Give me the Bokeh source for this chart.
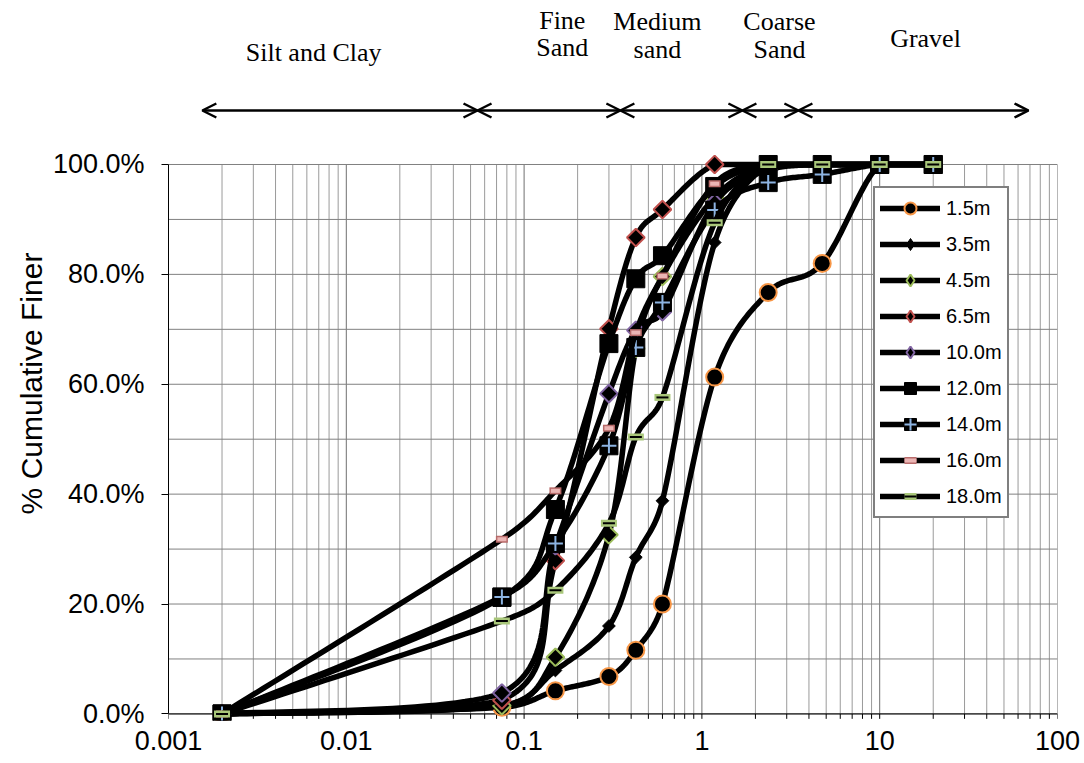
import numpy as np
from bokeh.plotting import figure
from bokeh.models import (Range1d, FixedTicker, PrintfTickFormatter, CustomJSTickFormatter,
                          Arrow, OpenHead)
from bokeh.layouts import column, row
from bokeh.core.properties import value
from bokeh.embed import file_html
from bokeh.resources import INLINE

# ---------------- data ----------------
sieve_mm = [0.002, 0.075, 0.15, 0.3, 0.425, 0.6, 1.18, 2.36, 4.75, 10, 20]
depths = ["1.5m", "3.5m", "4.5m", "6.5m", "10.0m", "12.0m", "14.0m", "16.0m", "18.0m"]
finer_1_5 = [0, 1.2, 4.2, 6.8, 11.6, 20.0, 61.3, 76.7, 82.0, 100, 100]
finer_3_5 = [0, 1.5, 7.9, 16.0, 28.5, 38.8, 85.8, 100, 100, 100, 100]
finer_4_5 = [0, 1.5, 10.3, 32.6, 66.5, 79.6, 94.0, 100, 100, 100, 100]
finer_6_5 = [0, 2.5, 27.9, 70.1, 86.7, 91.8, 100, 100, 100, 100, 100]
finer_10_0 = [0, 3.8, 30.6, 58.3, 69.8, 73.2, 93.0, 99.0, 100, 100, 100]
finer_12_0 = [0, 21.2, 37.2, 67.4, 79.2, 83.4, 96.0, 100, 100, 100, 100]
finer_14_0 = [0, 21.3, 31.0, 48.8, 66.7, 74.9, 91.7, 96.7, 98.2, 100, 100]
finer_16_0 = [0, 31.8, 40.6, 52.0, 69.4, 79.7, 96.5, 100, 100, 100, 100]
finer_18_0 = [0, 16.9, 22.5, 34.7, 50.4, 57.6, 89.4, 100, 100, 100, 100]

x_ticks = [0.001, 0.01, 0.1, 1, 10, 100]
y_ticks = [0, 20, 40, 60, 80, 100]
y_grid = [0, 10, 20, 30, 40, 50, 60, 70, 80, 90, 100]
y_title = "% Cumulative Finer"

zone_edges = [0.00155, 0.0547, 0.348, 1.69, 3.49, 68.7]
zone_text = ["Silt and Clay", "Fine", "Sand", "Medium", "sand", "Coarse", "Sand", "Gravel"]
zone_text_x = [0.00655, 0.164, 0.164, 0.562, 0.562, 2.73, 2.73, 18.1]
zone_text_y = [51.5, 20, 47, 21, 49, 21, 49, 38]

# ---------------- layout constants ----------------
W_LEFT = 48
W = 1036
BL, BR = 120, 27
H_TOP = 138
H_MAIN = 625
BT, BB = 15, 43
Y0, Y1 = -1.2, 102
FW = W - BL - BR
FH = H_MAIN - BT - BB
SX = FW / 5.0
SY = FH / (Y1 - Y0)


def excel_smooth(xs, ys, n=30):
    P = np.column_stack([np.log10(np.asarray(xs, float)) * SX, np.asarray(ys, float) * SY])
    m = len(P)
    out = [P[0]]
    t = np.linspace(0, 1, n + 1)[1:, None]
    for i in range(m - 1):
        p0 = P[i - 1] if i > 0 else P[i]
        p1, p2 = P[i], P[i + 1]
        p3 = P[i + 2] if i + 2 < m else P[i + 1]
        d12 = np.linalg.norm(p2 - p1)
        d02 = np.linalg.norm(p2 - p0)
        d13 = np.linalg.norm(p3 - p1)
        f1 = f2 = 1 / 6
        if d02 > 0 and d02 / 6 > d12 / 2:
            f1 = d12 / (2 * d02)
        if d13 > 0 and d13 / 6 > d12 / 2:
            f2 = d12 / (2 * d13)
        c1 = p1 + (p2 - p0) * f1
        c2 = p2 - (p3 - p1) * f2
        lo, hi = min(p1[1], p2[1]), max(p1[1], p2[1])
        c1[1] = min(max(c1[1], lo), hi)
        c2[1] = min(max(c2[1], lo), hi)
        seg = (1 - t) ** 3 * p1 + 3 * (1 - t) ** 2 * t * c1 + 3 * (1 - t) * t ** 2 * c2 + t ** 3 * p2
        out.extend(seg)
    out = np.array(out)
    return 10 ** (out[:, 0] / SX), out[:, 1] / SY


# ---------------- main chart ----------------
p = figure(width=W, height=H_MAIN, x_axis_type="log",
           x_range=Range1d(x_ticks[0], x_ticks[-1]), y_range=Range1d(Y0, Y1),
           output_backend="svg", toolbar_location=None,
           min_border_left=BL, min_border_right=BR, min_border_top=BT, min_border_bottom=BB)
p.xgrid.visible = False
p.ygrid.visible = False
p.outline_line_color = None
p.background_fill_color = "white"
p.border_fill_color = "white"

minor_x = [k * 10.0 ** d for d in range(-3, 2) for k in range(2, 10)]
all_x = minor_x + x_ticks
p.segment(x0=minor_x, y0=[y_grid[0]] * len(minor_x), x1=minor_x, y1=[y_grid[-1]] * len(minor_x),
          line_color="#9a9a9a", line_width=1)
p.segment(x0=x_ticks, y0=[y_grid[0]] * len(x_ticks), x1=x_ticks, y1=[y_grid[-1]] * len(x_ticks),
          line_color="#707070", line_width=1)
p.segment(x0=[x_ticks[0]] * len(y_grid), y0=y_grid, x1=[x_ticks[-1]] * len(y_grid), y1=y_grid,
          line_color="#808080", line_width=1)
# x baseline with downward tick marks at 0 %
p.segment(x0=[x_ticks[0]], y0=[y_grid[0]], x1=[x_ticks[-1]], y1=[y_grid[0]],
          line_color="black", line_width=1)
p.segment(x0=all_x, y0=[y_grid[0]] * len(all_x), x1=all_x, y1=[y_grid[0] - 0.9] * len(all_x),
          line_color="black", line_width=1)

# axes
p.xaxis.ticker = FixedTicker(ticks=x_ticks, minor_ticks=[])
p.xaxis.formatter = CustomJSTickFormatter(code="return tick.toString();")
p.xaxis.axis_line_color = None
p.xaxis.major_tick_line_color = None
p.xaxis.minor_tick_line_color = None
p.xaxis.major_tick_in = 0
p.xaxis.major_tick_out = 0
p.xaxis.major_label_standoff = 10
p.xaxis.major_label_text_font_size = "27px"

p.yaxis.bounds = (y_ticks[0], y_ticks[-1])
p.yaxis.ticker = FixedTicker(ticks=y_ticks, minor_ticks=[])
p.yaxis.formatter = PrintfTickFormatter(format="%.1f%%")
p.yaxis.axis_line_color = "black"
p.yaxis.major_tick_line_color = "black"
p.yaxis.major_tick_in = 0
p.yaxis.major_tick_out = 7
p.yaxis.minor_tick_line_color = None
p.yaxis.major_label_standoff = 17
p.yaxis.major_label_text_font_size = "27px"

for ax in (p.xaxis, p.yaxis):
    ax.major_label_text_font = "Liberation Sans"
    ax.major_label_text_color = "black"

series = [finer_1_5, finer_3_5, finer_4_5, finer_6_5, finer_10_0,
          finer_12_0, finer_14_0, finer_16_0, finer_18_0]

diamond = np.pi / 4
LW = 5.5
for lab, vals in zip(depths, series):
    sx_, sy_ = excel_smooth(sieve_mm, vals)
    p.line(sx_, sy_, line_color="black", line_width=LW, line_join="round", line_cap="round",
           legend_label=lab)
    if lab == "1.5m":
        p.scatter(sieve_mm, vals, marker="circle", size=17, fill_color="black",
                  line_color="#F79646", line_width=2, legend_label=lab)
    elif lab in ("3.5m", "4.5m", "6.5m", "10.0m"):
        edge = {"3.5m": "black", "4.5m": "#9BBB59", "6.5m": "#C0504D", "10.0m": "#8064A2"}[lab]
        sz = 9 if lab == "3.5m" else 12.5
        lw = 1 if lab == "3.5m" else 2
        # plot markers: rotated squares (regular diamonds)
        p.scatter(sieve_mm, vals, marker="square", angle=diamond, size=sz,
                  fill_color="black", line_color=edge, line_width=lw)
        # legend glyph: a diamond marker with no position (NaN), so nothing shows in the plot
        p.scatter(x=[np.nan], y=[np.nan], marker="diamond", size=sz, fill_color="black",
                  line_color=edge, line_width=lw, legend_label=lab)
    elif lab == "12.0m":
        p.scatter(sieve_mm, vals, marker="square", size=18, fill_color="black",
                  line_color="black", line_width=1, legend_label=lab)
    elif lab == "14.0m":
        p.scatter(sieve_mm, vals, marker="square", size=18, fill_color="black",
                  line_color="black", line_width=1, legend_label=lab)
        p.scatter(sieve_mm, vals, marker="cross", size=15, line_color="#8DB4E2",
                  line_width=2, legend_label=lab)
    elif lab == "16.0m":
        p.scatter(sieve_mm, vals, marker="dash", size=12, line_color="#B86B6A",
                  line_width=7, line_cap="butt", legend_label=lab)
        p.scatter(sieve_mm, vals, marker="dash", size=9, line_color="#EBB5B4",
                  line_width=4, line_cap="butt", legend_label=lab)
    elif lab == "18.0m":
        p.scatter(sieve_mm, vals, marker="dash", size=16, line_color="#A9C77A",
                  line_width=7, line_cap="butt", legend_label=lab)
        p.scatter(sieve_mm, vals, marker="dash", size=12, line_color="black",
                  line_width=2, line_cap="butt", legend_label=lab)

lg = p.legend[0]
lg.location = (705, 202)
lg.padding = 5
lg.spacing = 6
lg.margin = 0
lg.glyph_height = 30
lg.glyph_width = 60
lg.label_height = 30
lg.label_standoff = 6
lg.label_text_font = "Liberation Sans"
lg.label_text_font_size = "20px"
lg.label_text_color = "black"
lg.border_line_color = "black"
lg.border_line_width = 2
lg.background_fill_color = "white"
lg.background_fill_alpha = 1.0

# ---------------- top annotation strip ----------------
top = figure(width=W, height=H_TOP, x_axis_type="log", x_range=p.x_range,
             y_range=Range1d(H_TOP, 0), output_backend="svg", toolbar_location=None,
             x_axis_location=None, y_axis_location=None,
             min_border=0, min_border_left=BL, min_border_right=BR,
             min_border_top=0, min_border_bottom=0)
top.xgrid.visible = False
top.ygrid.visible = False
top.outline_line_color = None
top.background_fill_color = "white"
top.border_fill_color = "white"

arrow_y = 110
for a, b in zip(zone_edges[:-1], zone_edges[1:]):
    top.add_layout(Arrow(x_start=a, y_start=arrow_y, x_end=b, y_end=arrow_y,
                         line_color="black", line_width=2.5,
                         start=OpenHead(size=14, line_width=2.5, line_color="black"),
                         end=OpenHead(size=14, line_width=2.5, line_color="black")))

top.text(x=zone_text_x, y=zone_text_y, text=zone_text, text_align="center",
         text_baseline="middle", text_font=value("Liberation Serif"),
         text_font_size="26px", text_color="black")

# ---------------- left strip with the y title ----------------
H_ALL = H_TOP + H_MAIN
left = figure(width=W_LEFT, height=H_ALL, x_range=Range1d(0, W_LEFT), y_range=Range1d(0, H_ALL),
              output_backend="svg", toolbar_location=None,
              x_axis_location=None, y_axis_location=None,
              min_border=0, min_border_left=0, min_border_right=0,
              min_border_top=0, min_border_bottom=0)
left.xgrid.visible = False
left.ygrid.visible = False
left.outline_line_color = None
left.background_fill_color = "white"
left.border_fill_color = "white"
left.text(x=[31], y=[H_ALL - 383], text=[y_title], angle=np.pi / 2, text_align="center",
          text_baseline="middle", text_font=value("Liberation Sans"),
          text_font_size="30px", text_color="black")

layout = row(left, column(top, p, spacing=0), spacing=0)
open("out.html", "w").write(file_html(layout, INLINE))
